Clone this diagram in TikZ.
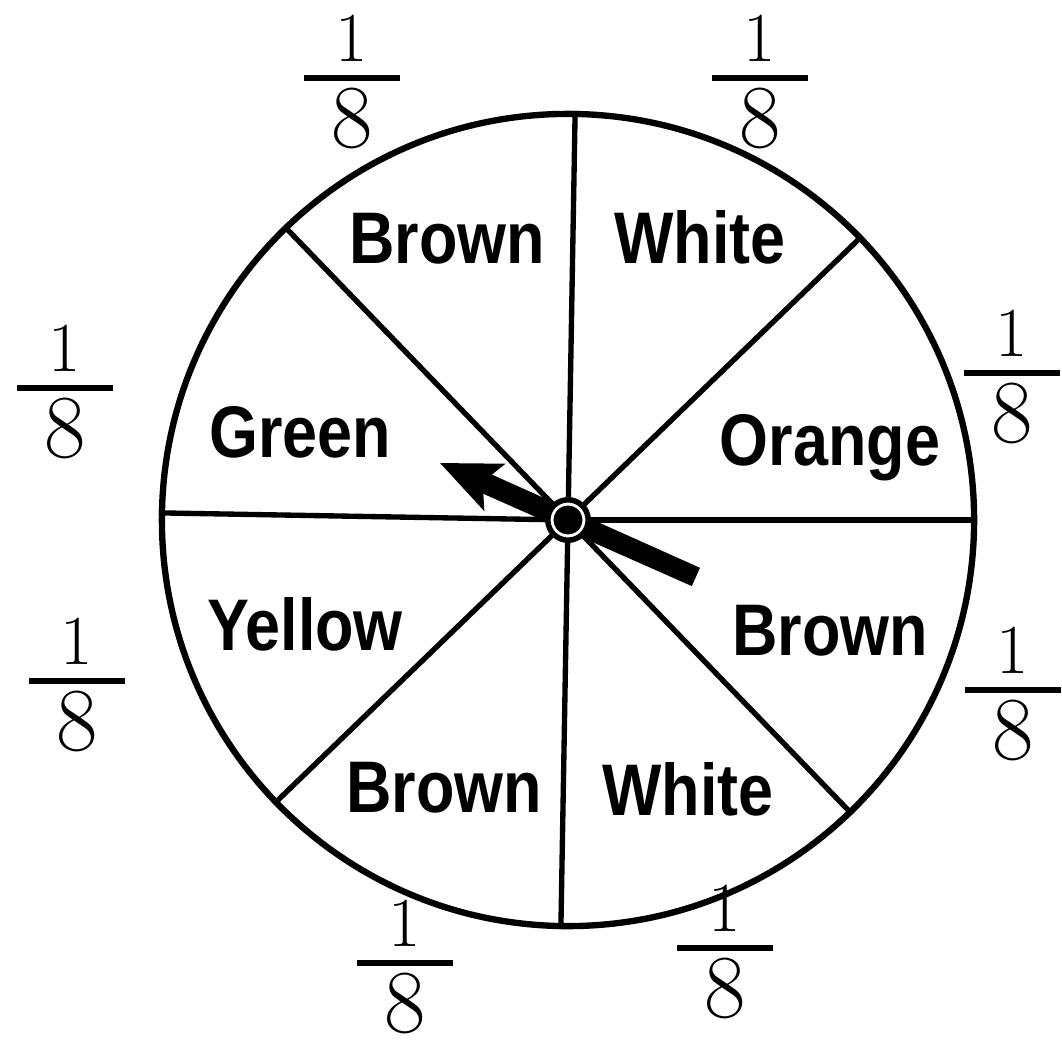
\documentclass[tikz,border=0pt]{standalone}
\usepackage{fix-cm}
\usepackage{amsmath}
\usepackage{fontspec}
\usepackage{tikz}
\usetikzlibrary{positioning}
\newfontfamily\wheelfont[FakeStretch=0.86]{Liberation Sans}
\newcommand{\eighth}{$\genfrac{}{}{4.5pt}{1}{\hbox to 68pt{\hfil\fontsize{50}{56}\selectfont 1\vrule depth 5pt width 0pt\hfil}}{\hbox{\fontsize{64}{70}\selectfont 8}}$}

\begin{document}
\begin{tikzpicture}[x=0.025cm, y=-0.025cm,
    colour/.style={font=\wheelfont\bfseries\fontsize{52}{60}\selectfont, anchor=base, inner sep=0pt},
    frac/.style={font=\fontsize{52}{60}\selectfont, inner sep=0pt}]
    \useasboundingbox (0,0) rectangle (1062,1057);
    % wheel and hub
    \node[circle, draw, line width=4.5pt, minimum size=20.3cm] (wheel) at (568,520) {};
    \node[circle, minimum size=1.01cm, inner sep=0pt] (hubarea) at (wheel.center) {};
    % spokes between the eight sectors
    \foreach \a in {0,45,...,315}
        \draw[line width=3.8pt] (hubarea.\a-0.8) -- (wheel.\a-0.8);
    % sector colours
    \node[colour] (brownN) at (447,263) {Brown};
    \node[colour] (whiteN) at (700,263) {White};
    \node[colour] (green) at (300,457) {Green};
    \node[colour] (orange) at (830,465) {Orange};
    \node[colour] (yellow) at (305,650) {Yellow};
    \node[colour] (brownE) at (830,655) {Brown};
    \node[colour] (brownS) at (444,812) {Brown};
    \node[colour] (whiteS) at (688,815) {White};
    % pointer
    \begin{scope}[shift={(wheel.center)}, rotate=156]
        \fill (140,0) -- (80,26) -- (88,10.5) -- (-140,10) -- (-140,-10) -- (88,-10.5) -- (80,-26) -- cycle;
    \end{scope}
    \node[circle, draw, fill=white, line width=3.9pt, minimum size=1.01cm, inner sep=0pt] (hub) at (wheel.center) {};
    \node[circle, fill, minimum size=0.72cm, inner sep=0pt] (dot) at (hub.center) {};
    % probabilities written round the wheel
    \node[frac] (pTL) at (352,82) {\eighth};
    \node[frac] (pTR) at (760,82) {\eighth};
    \node[frac] (pL) at (65,392) {\eighth};
    \node[frac] (pR) at (1012,377) {\eighth};
    \node[frac] (pLL) at (77,685) {\eighth};
    \node[frac] (pLR) at (1013,694) {\eighth};
    \node[frac] (pBL) at (405,967) {\eighth};
    \node[frac] (pBR) at (725,952) {\eighth};
\end{tikzpicture}
\end{document}
